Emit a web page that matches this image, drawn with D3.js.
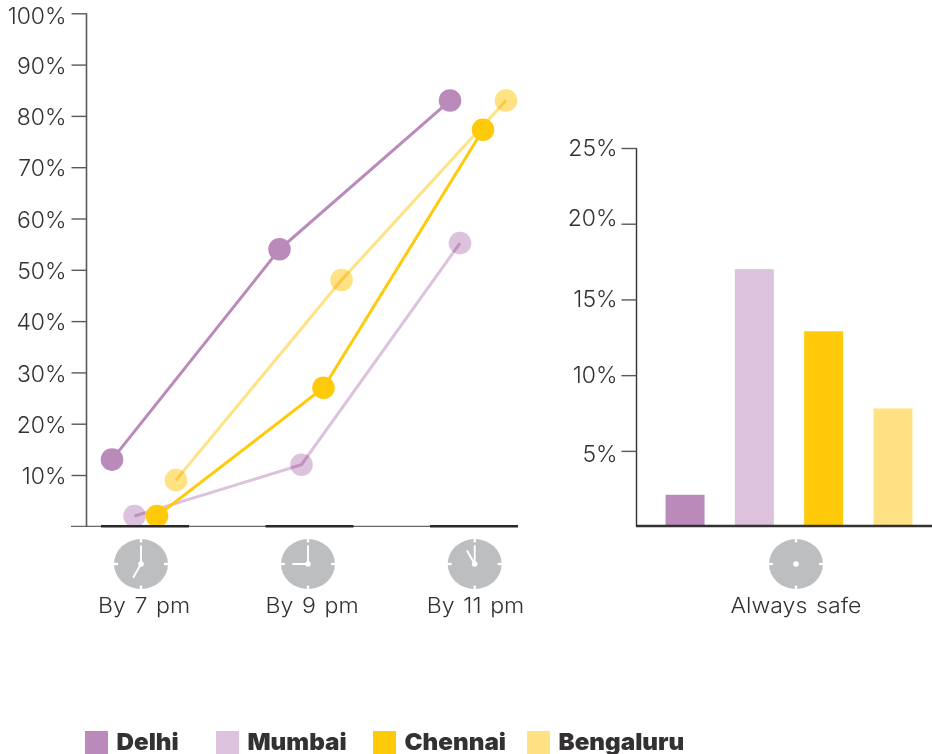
<!DOCTYPE html>
<html>
<head>
<meta charset="utf-8">
<script src="https://cdn.jsdelivr.net/npm/d3@7"></script>
<style>
  html, body { margin: 0; padding: 0; background: #fff; }
  svg { display: block; }
  text { font-family: Inter, "Noto Sans", sans-serif; fill: #333132; }
</style>
</head>
<body>
<svg id="chart" width="932" height="754"></svg>
<script>
// Share of women who say they feel safe, by time of evening
const cities = ["Delhi", "Mumbai", "Chennai", "Bengaluru"];
const times = ["By 7 pm", "By 9 pm", "By 11 pm"];
const delhiByTime = [13, 54, 83];
const mumbaiByTime = [2, 12, 55.2];
const chennaiByTime = [2, 27, 77.3];
const bengaluruByTime = [9, 48, 83];
const alwaysSafe = [2.1, 17, 12.9, 7.8];
const lineTicks = [10, 20, 30, 40, 50, 60, 70, 80, 90, 100];
const barTicks = [5, 10, 15, 20, 25];
const alwaysLabel = "Always safe";

const colors = ["#b98aba", "#dcc2dd", "#ffca0a", "#fee283"];
const lineSeries = [delhiByTime, mumbaiByTime, chennaiByTime, bengaluruByTime];
// Horizontal dodge of each city's dots around its time group, in pixels
const dodge = [[-33, -30, -24], [-10.5, -8, -14], [12, 14, 9], [31, 32, 32]];
// Paler cities sit below the saturated ones, with their connector tinting the dot
const drawOrder = [1, 3, 2, 0];
const palerCities = [1, 3];

const svg = d3.select("#chart");
const ink = "#333132";
const tickColor = "#58595b";

// Stretch a text horizontally about its anchor point for a wider letterform
function widen(sel, k, x, y) {
  sel.attr("x", x / k).attr("y", y).attr("transform", `scale(${k},1)`);
}

function styleTickText(sel, xEnd, yOffset) {
  sel.attr("font-size", 22.5).attr("font-weight", 300)
    .attr("fill", ink)
    .style("font-family", "Inter, sans-serif");
  sel.each(function (d) { widen(d3.select(this), 1.02, xEnd, yOffset(d)); });
}

/* Left panel: evening line chart */
const yLine = d3.scaleLinear().domain([0, 100]).range([526.3, 13.3]);
const xTime = d3.scalePoint().domain(times).range([145, 474]);

const left = svg.append("g");
const lineAxis = left.append("g")
  .attr("transform", "translate(86.5,0)")
  .call(d3.axisLeft(yLine).tickValues(lineTicks).tickSize(15).tickPadding(5)
    .tickFormat(d => d + "%"));
lineAxis.select(".domain").attr("stroke", tickColor).attr("stroke-width", 1.6)
  .attr("d", `M0,${yLine(100)}V${yLine(0)}`);
lineAxis.selectAll(".tick line").attr("stroke", tickColor).attr("stroke-width", 1.4);
lineAxis.selectAll(".tick text").call(styleTickText, -20, d => d === 100 ? 2.5 : 1.5);

const lineGen = d3.line().x(d => d.x).y(d => d.y);
const seriesPoints = lineSeries.map((vals, s) =>
  vals.map((v, i) => ({ x: xTime(times[i]) + dodge[s][i], y: yLine(v) })));

drawOrder.forEach(s => {
  const g = left.append("g");
  const pale = palerCities.includes(s);
  const addLine = () => g.append("path").attr("d", lineGen(seriesPoints[s]))
    .attr("fill", "none").attr("stroke", colors[s]).attr("stroke-width", 3);
  if (!pale) addLine();
  g.selectAll("circle").data(seriesPoints[s]).join("circle")
    .attr("cx", d => d.x).attr("cy", d => d.y).attr("r", 11.3)
    .attr("fill", colors[s]);
  if (pale) addLine().style("mix-blend-mode", "multiply");
});

// Baseline goes over the lowest dots
left.append("line")
  .attr("x1", 71).attr("x2", 518)
  .attr("y1", yLine(0)).attr("y2", yLine(0))
  .attr("stroke", "#414042").attr("stroke-width", 1);

left.selectAll("line.group").data(times).join("line")
  .attr("class", "group")
  .attr("x1", d => xTime(d) - 44).attr("x2", d => xTime(d) + 44)
  .attr("y1", yLine(0)).attr("y2", yLine(0))
  .attr("stroke", "#2b2829").attr("stroke-width", 2.4);

/* Right panel: always-safe bars */
const yBar = d3.scaleLinear().domain([0, 25]).range([526.6, 148]);
const xBar = d3.scaleBand().domain(cities).range([651, 927]).paddingInner(0.4375).paddingOuter(0.21);

const right = svg.append("g");
const barAxis = right.append("g")
  .attr("transform", "translate(636.5,0)")
  .call(d3.axisLeft(yBar).tickValues(barTicks).tickSize(15).tickPadding(5)
    .tickFormat(d => d + "%"));
barAxis.select(".domain").attr("stroke", "#333132").attr("stroke-width", 1.4)
  .attr("d", `M0,${yBar(25)}V${yBar(0)}`);
barAxis.selectAll(".tick line").attr("stroke", tickColor).attr("stroke-width", 1.4);
// The 20% label rides above its tick and the 5% label just below
barAxis.selectAll(".tick text").call(styleTickText, -19, d => d === 20 ? -5 : d === 5 ? 3 : 0);

right.selectAll("rect").data(alwaysSafe).join("rect")
  .attr("x", (d, i) => xBar(cities[i]))
  .attr("width", xBar.bandwidth())
  .attr("y", d => yBar(d))
  .attr("height", d => yBar(0) - yBar(d))
  .attr("fill", (d, i) => colors[i]);

right.append("line")
  .attr("x1", 636).attr("x2", 932)
  .attr("y1", 526).attr("y2", 526)
  .attr("stroke", "#333132").attr("stroke-width", 2.6);

/* Clock icons under each group */
function clock(cx, cy, minuteAngle, hourAngle) {
  const g = svg.append("g").attr("transform", `translate(${cx},${cy})`);
  g.append("ellipse").attr("rx", 27).attr("ry", 25).attr("fill", "#bcbec0");
  // Quarter-hour notches cut into the rim
  [[0, -25.5, 0, -21.5], [0, 25.5, 0, 21.5], [-27.5, 0, -23, 0], [27.5, 0, 23, 0]].forEach(t => {
    g.append("line").attr("x1", t[0]).attr("y1", t[1]).attr("x2", t[2]).attr("y2", t[3])
      .attr("stroke", "#fff").attr("stroke-width", 2.4);
  });
  const hand = (deg, len) => {
    const a = deg * Math.PI / 180;
    g.append("line").attr("x1", 0).attr("y1", 0)
      .attr("x2", len * Math.sin(a)).attr("y2", -len * Math.cos(a))
      .attr("stroke", "#fff").attr("stroke-width", 1.9).attr("stroke-linecap", "round");
  };
  if (minuteAngle !== null) {
    hand(minuteAngle, 18);
    hand(hourAngle, 15);
  }
  g.append("circle").attr("r", 2.8).attr("fill", "#fff");
}

clock(141, 564, 0, 210);
clock(308, 564, 0, 270);
clock(474.7, 564, 0, 330);
clock(796, 564, null);

const labelX = [144, 312, 475.5];
const captionStyle = sel => sel
  .attr("text-anchor", "middle")
  .attr("font-size", 21).attr("font-weight", 300)
  .style("word-spacing", "2px");

svg.selectAll("text.time").data(times).join("text")
  .attr("class", "time")
  .call(captionStyle)
  .each(function (d, i) { widen(d3.select(this), 1.1, labelX[i], 613); })
  .text(d => d);

svg.append("text")
  .call(captionStyle)
  .call(widen, 1.1, 796, 613)
  .text(alwaysLabel);

/* Legend */
const legendX = [85, 216, 373, 527];
const legend = svg.selectAll("g.legend").data(cities).join("g")
  .attr("class", "legend")
  .attr("transform", (d, i) => `translate(${legendX[i]},731)`);
legend.append("rect").attr("width", 23).attr("height", 23)
  .attr("fill", (d, i) => colors[i]);
legend.append("text")
  .call(widen, 1.03, 31.5, 18.5)
  .attr("font-size", 23.5).attr("font-weight", 900)
  .attr("fill", "#231f20")
  .text(d => d);
</script>
</body>
</html>
